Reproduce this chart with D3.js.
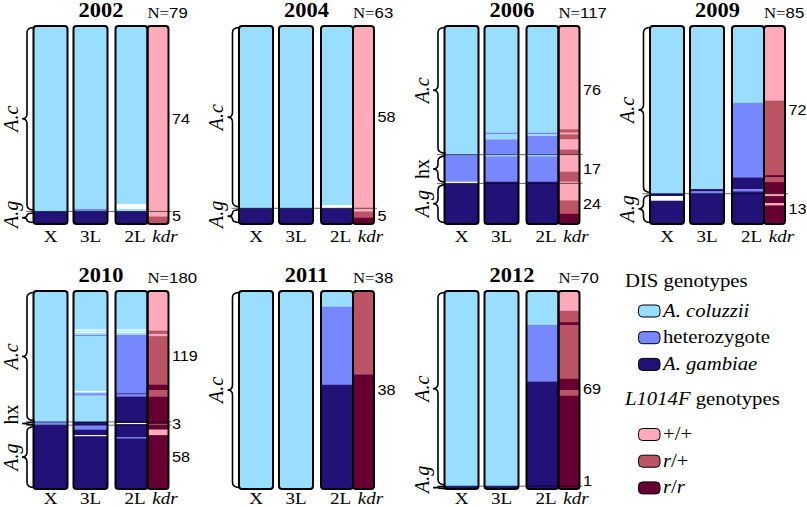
<!DOCTYPE html>
<html><head><meta charset="utf-8">
<script src="https://cdn.jsdelivr.net/npm/d3@7"></script>
<style>body{margin:0;background:#fff} svg{display:block}</style>
</head><body><svg id="chart" width="807" height="507"></svg>
<script>
// ---------------- DATA ----------------
const years = ["2002", "2004", "2006", "2009", "2010", "2011", "2012"];
const sampleSizes = [79, 63, 117, 85, 180, 38, 70];
const columns = ["X", "3L", "2L", "kdr"];

// groups (top to bottom): label, number of individuals
const groupCounts = [
  [["A.c", 74], ["A.g", 5]],
  [["A.c", 58], ["A.g", 5]],
  [["A.c", 76], ["hx", 17], ["A.g", 24]],
  [["A.c", 72], ["A.g", 13]],
  [["A.c", 119], ["hx", 3], ["A.g", 58]],
  [["A.c", 38]],
  [["A.c", 69], ["A.g", 1]]
];

// DIS genotype runs (top to bottom): c = A. coluzzii, h = heterozygote, g = A. gambiae, w = missing
const xRuns = [
  [["c", 74], ["g", 5]],
  [["c", 58], ["g", 5]],
  [["c", 76], ["h", 16], ["w", 1], ["g", 24]],
  [["c", 72], ["g", 1], ["w", 2], ["g", 10]],
  [["c", 119], ["h", 3], ["g", 58]],
  [["c", 38]],
  [["c", 69], ["g", 1]]
];
const l3Runs = [
  [["c", 73], ["h", 1], ["g", 5]],
  [["c", 58], ["g", 5]],
  [["c", 63], ["h", 1], ["c", 3], ["h", 9], ["c", 1], ["h", 15], ["g", 25]],
  [["c", 70], ["g", 1], ["h", 1], ["g", 13]],
  [["c", 35], ["w", 1], ["c", 1], ["w", 1], ["c", 2], ["h", 1], ["c", 50], ["w", 1], ["c", 1], ["h", 2], ["c", 24], ["g", 3], ["h", 4], ["g", 5], ["w", 1], ["g", 48]],
  [["c", 38]],
  [["c", 69], ["g", 1]]
];
const l2Runs = [
  [["c", 71], ["w", 2], ["c", 1], ["g", 5]],
  [["c", 57], ["w", 1], ["g", 5]],
  [["c", 63], ["h", 1], ["c", 1], ["h", 11], ["c", 1], ["h", 15], ["g", 25]],
  [["c", 33], ["h", 32], ["g", 5], ["h", 1], ["g", 14]],
  [["c", 35], ["w", 1], ["c", 1], ["w", 1], ["c", 2], ["h", 53], ["g", 1], ["h", 2], ["g", 24], ["w", 1], ["g", 12], ["h", 1], ["g", 46]],
  [["c", 3], ["h", 15], ["g", 20]],
  [["c", 12], ["h", 20], ["g", 38]]
];
// L1014F (kdr) genotype runs: ss = +/+, rs = r/+, rr = r/r
const kdrRuns = [
  [["ss", 76], ["rs", 3]],
  [["ss", 59], ["rs", 2], ["rr", 2]],
  [["ss", 61], ["rs", 2], ["ss", 1], ["rs", 3], ["ss", 6], ["rs", 3], ["ss", 10], ["rs", 6], ["ss", 11], ["rs", 8], ["rr", 6]],
  [["ss", 32], ["rs", 32], ["rr", 1], ["rs", 2], ["rr", 5], ["ss", 1], ["rr", 3], ["ss", 1], ["rr", 8]],
  [["ss", 36], ["rs", 3], ["ss", 2], ["rs", 44], ["rr", 5], ["rs", 6], ["rr", 25], ["rs", 1], ["rr", 4], ["ss", 5], ["rr", 49]],
  [["rs", 16], ["rr", 22]],
  [["ss", 7], ["rs", 4], ["rr", 1], ["rs", 19], ["rr", 4], ["rs", 2], ["rr", 33]]
];

const disLegend = [["c", "A. coluzzii", true], ["h", "heterozygote", false], ["g", "A. gambiae", true]];
const kdrLegend = [["ss", "+/+"], ["rs", "r/+"], ["rr", "r/r"]];

// ---------------- STYLE / LAYOUT ----------------
const colorDIS = d3.scaleOrdinal().domain(["c", "h", "g", "w"]).range(["#99DDFF", "#7788FF", "#221177", "#FFFFFF"]);
const colorKdr = d3.scaleOrdinal().domain(["ss", "rs", "rr", "w"]).range(["#FFAABB", "#BB5566", "#660033", "#FFFFFF"]);

const serif = "'Liberation Serif','Times New Roman',serif";
const sans = "'Liberation Sans',Arial,Helvetica,sans-serif";
const SX = 1.12; // horizontal stretch of text in the reference

const svg = d3.select("#chart");
const panelLeft = d3.scalePoint().domain([0, 1, 2, 3]).range([33.5, 650]);
const panelTop = d3.scalePoint().domain([0, 1]).range([26, 291]);
const labelDrop = d3.scaleOrdinal().domain([0, 1]).range([17.5, 14.5]);
const barH = 198;
const colOffset = d3.scaleOrdinal().domain(columns).range([0, 40, 82, 114]);
const colWidth = d3.scaleOrdinal().domain(columns).range([34, 34, 32, 21]);
const labelOffset = d3.scaleOrdinal().domain(columns).range([17, 57, 101.5, 131.5]);

function hText(g, x, y, size, family, opts = {}) {
  const t = g.append("text")
    .attr("transform", `translate(${x},${y}) scale(${SX},1)`)
    .attr("font-family", family).attr("font-size", size)
    .attr("text-anchor", opts.anchor || "middle")
    .attr("fill", "#000");
  if (opts.weight) t.attr("font-weight", opts.weight);
  if (opts.italic) t.attr("font-style", "italic");
  return t;
}

function bracePath(xEnd, xSpine, xTip, y1, y2) {
  const h = y2 - y1, r = Math.min(5, h / 4), ym = (y1 + y2) / 2;
  const p = d3.path();
  p.moveTo(xEnd, y1);
  p.quadraticCurveTo(xSpine, y1, xSpine, y1 + r);
  p.lineTo(xSpine, ym - r);
  p.quadraticCurveTo(xSpine, ym, xTip, ym);
  p.quadraticCurveTo(xSpine, ym, xSpine, ym + r);
  p.lineTo(xSpine, y2 - r);
  p.quadraticCurveTo(xSpine, y2, xEnd, y2);
  return p.toString();
}

years.forEach((year, i) => {
  const row = i < 4 ? 0 : 1, col = i < 4 ? i : i - 4;
  const left = panelLeft(col), top = panelTop(row), N = sampleSizes[i];
  const y = d3.scaleLinear().domain([0, N]).range([top, top + barH]);
  const g = svg.append("g");

  const colData = [["X", xRuns[i], colorDIS], ["3L", l3Runs[i], colorDIS], ["2L", l2Runs[i], colorDIS], ["kdr", kdrRuns[i], colorKdr]];
  colData.forEach(([name, runs, color]) => {
    const ends = d3.cumsum(runs, d => d[1]);
    const x0 = left + colOffset(name), w = colWidth(name);
    g.append("g").selectAll("rect").data(runs).join("rect")
      .attr("x", x0).attr("width", w)
      .attr("y", (d, k) => y(ends[k] - d[1]))
      .attr("height", (d, k) => y(ends[k]) - y(ends[k] - d[1]) + (k < runs.length - 1 ? 0.25 : 0))
      .attr("fill", d => color(d[0]));
  });

  // group boundary lines
  const gEnds = d3.cumsum(groupCounts[i], d => d[1]);
  const xSpine = left - 6.5, xTip = left - 11.5, xEnd = left + 1;
  g.append("g").selectAll("line").data(Array.from(gEnds).slice(0, -1)).join("line")
    .attr("x1", xSpine - 1).attr("x2", left + 138)
    .attr("y1", d => y(d)).attr("y2", d => y(d))
    .attr("stroke", "#000").attr("stroke-opacity", 0.6).attr("stroke-width", 1);

  // borders
  columns.forEach(name => {
    g.append("rect")
      .attr("x", left + colOffset(name)).attr("y", top)
      .attr("width", colWidth(name)).attr("height", barH)
      .attr("rx", 3).attr("fill", "none").attr("stroke", "#000").attr("stroke-width", 2);
  });

  // braces, group labels, counts
  groupCounts[i].forEach(([lab, n], k) => {
    const s = gEnds[k] - n, e = gEnds[k];
    const y1 = y(s), y2 = y(e), h = y2 - y1;
    const inset = Math.min(1.5, h * 0.15);
    g.append("path").attr("d", bracePath(xEnd, xSpine, xTip, y1 + inset, y2 - inset))
      .attr("fill", "none").attr("stroke", "#000").attr("stroke-width", 1.6);
    const mid = (y1 + y2) / 2;
    const t = g.append("text")
      .attr("font-family", serif).attr("font-size", 20)
      .attr("text-anchor", "middle")
      .attr("font-style", lab === "hx" ? "normal" : "italic")
      .text(lab);
    const half = t.node().getComputedTextLength() / 2;
    let cy = Math.min(mid, top + barH + 4 - half);
    if (lab === "hx" && h < 10) cy = mid - 9;
    t.attr("transform", `translate(${xTip - 4.5},${cy}) rotate(-90)`);
    hText(g, left + 138.5, Math.min(mid, top + barH - 8) + 5, 14.5, sans, {anchor: "start"}).text(n);
  });

  // title and N
  hText(g, left + 67.5, top - 9.5, 20, serif, {weight: "bold"}).text(year);
  const nt = hText(g, left + 114, top - 8, 15, serif, {anchor: "start"});
  nt.append("tspan").text("N=");
  nt.append("tspan").attr("font-family", sans).text(N);

  // column labels
  columns.forEach(name => {
    hText(g, left + labelOffset(name), top + barH + labelDrop(row), 17, serif, {italic: name === "kdr"}).text(name);
  });
});

// ---------------- LEGEND ----------------
const lg = svg.append("g");
hText(lg, 625, 286.5, 18.5, serif, {anchor: "start"}).text("DIS genotypes");
const swatchY = d3.scaleLinear().domain([0, 1]).range([311, 337.7]);
disLegend.forEach(([code, label, it], k) => {
  const cy = swatchY(k);
  lg.append("rect").attr("x", 638.5).attr("y", cy - 6).attr("width", 21.5).attr("height", 12)
    .attr("rx", 4).attr("fill", colorDIS(code)).attr("stroke", "#000").attr("stroke-width", 1);
  hText(lg, 663, cy + 5.5, 18.5, serif, {anchor: "start", italic: it}).text(label);
});
const h2 = hText(lg, 625, 405, 18.5, serif, {anchor: "start"});
h2.append("tspan").attr("font-style", "italic").text("L1014F");
h2.append("tspan").text(" genotypes");
const swatchY2 = d3.scaleLinear().domain([0, 1]).range([434.5, 461.2]);
kdrLegend.forEach(([code, label], k) => {
  const cy = swatchY2(k);
  lg.append("rect").attr("x", 638.5).attr("y", cy - 6).attr("width", 21.5).attr("height", 12)
    .attr("rx", 4).attr("fill", colorKdr(code)).attr("stroke", "#000").attr("stroke-width", 1);
  const t = hText(lg, 663, cy + 5.5, 18.5, serif, {anchor: "start"});
  label.split("").forEach(ch => {
    t.append("tspan").attr("font-style", ch === "r" ? "italic" : "normal").text(ch);
  });
});
</script></body></html>
